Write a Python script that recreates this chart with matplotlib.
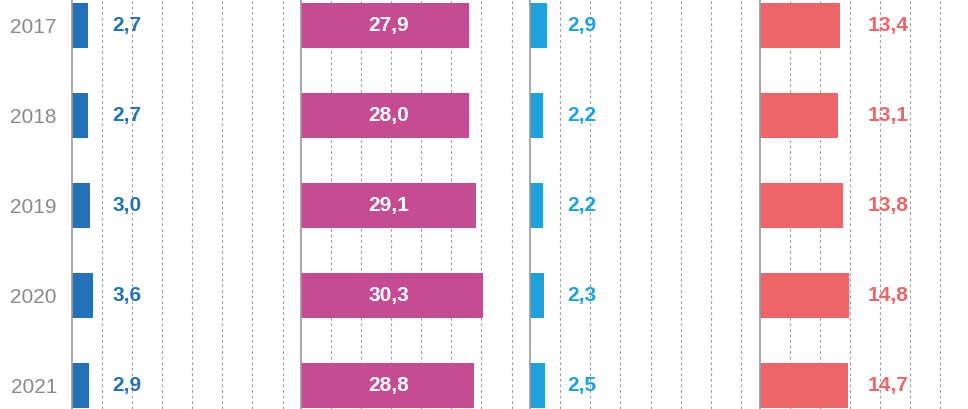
import matplotlib

matplotlib.use("Agg")
import matplotlib.pyplot as plt

plt.rcParams["font.family"] = ["Liberation Sans", "DejaVu Sans"]

years = ["2017", "2018", "2019", "2020", "2021"]
series_a = [2.7, 2.7, 3.0, 3.6, 2.9]
series_b = [27.9, 28.0, 29.1, 30.3, 28.8]
series_c = [2.9, 2.2, 2.2, 2.3, 2.5]
series_d = [13.4, 13.1, 13.8, 14.8, 14.7]

panels = [
    (series_a, "#2271b9", "outside"),
    (series_b, "#c54b92", "inside"),
    (series_c, "#1ea2dc", "outside"),
    (series_d, "#ef6469", "outside"),
]

W, H = 968, 409
px_per_unit = 6.03
panel_left = [71.5, 300.5, 530.0, 759.5]
xmax = 38

fig = plt.figure(figsize=(W / 100, H / 100), dpi=100)

ypos = list(range(len(years)))
for i, (vals, color, mode) in enumerate(panels):
    left = panel_left[i] / W
    width = xmax * px_per_unit / W
    ax = fig.add_axes([left, 0, width, 1])
    ax.set_xlim(0, xmax)
    ax.set_ylim(4.261, -0.283)
    ax.set_xticks(range(5, 40, 5))
    ax.grid(axis="x", linestyle=(0, (2.5, 2.5)), color="#9e9e9e", linewidth=0.8)
    ax.set_axisbelow(True)
    ax.barh(ypos, vals, height=0.5, color=color, zorder=2)
    for s in ["top", "right", "bottom"]:
        ax.spines[s].set_visible(False)
    ax.spines["left"].set_color("#9a9a9a")
    ax.spines["left"].set_linewidth(1.2)
    ax.tick_params(axis="x", length=0, labelbottom=False)
    if i == 0:
        ax.set_yticks(ypos)
        ax.set_yticklabels(years, fontsize=15, color="#8a8a8a")
        ax.tick_params(axis="y", length=0, pad=10.5)
    else:
        ax.set_yticks([])

    for y, v in zip(ypos, vals):
        txt = f"{v:.1f}".replace(".", ",")
        if mode == "inside":
            ax.text(14.6, y, txt, color="white", fontsize=15, fontweight="bold",
                    ha="center", va="center", zorder=3)
        else:
            ax.text(max(vals) + 3.2, y, txt, color=color, fontsize=15,
                    fontweight="bold", ha="left", va="center", zorder=3)

fig.savefig("out.png", dpi=100)
